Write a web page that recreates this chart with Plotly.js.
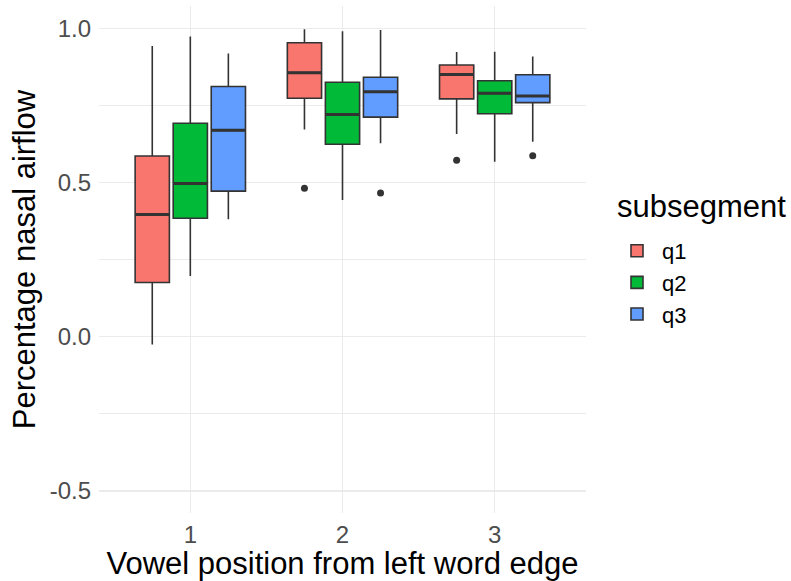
<!DOCTYPE html>
<html>
<head>
<meta charset="utf-8">
<script src="https://cdn.plot.ly/plotly-3.0.1.min.js"></script>
<style>
  html, body { margin: 0; padding: 0; background: #ffffff; }
  #chart { width: 791px; height: 581px; }
</style>
</head>
<body>
<div id="chart"></div>
<script>
// ---- Data ----
const categories = [1, 2, 3];
const categoryLabels = ['1', '2', '3'];
const seriesNames = ['q1', 'q2', 'q3'];

const q1Lower  = [-0.025, 0.672, 0.657];
const q1Q1     = [0.176, 0.773, 0.771];
const q1Median = [0.396, 0.856, 0.850];
const q1Q3     = [0.586, 0.953, 0.881];
const q1Upper  = [0.942, 0.997, 0.923];
const q1Outliers = [[], [0.481], [0.572]];

const q2Lower  = [0.197, 0.443, 0.567];
const q2Q1     = [0.384, 0.624, 0.723];
const q2Median = [0.497, 0.720, 0.789];
const q2Q3     = [0.692, 0.825, 0.830];
const q2Upper  = [0.973, 0.990, 0.924];
const q2Outliers = [[], [], []];

const q3Lower  = [0.381, 0.627, 0.632];
const q3Q1     = [0.472, 0.712, 0.759];
const q3Median = [0.669, 0.794, 0.780];
const q3Q3     = [0.811, 0.841, 0.849];
const q3Upper  = [0.918, 0.994, 0.908];
const q3Outliers = [[], [0.466], [0.587]];

const yTickVals = [-0.5, 0, 0.5, 1.0];
const yTickText = ['-0.5', '0.0', '0.5', '1.0'];
const yMinorVals = [-0.25, 0.25, 0.75];

// ---- Styles ----
const colors = ['#F8766D', '#00BA38', '#619CFF'];
const outlineColor = '#333333';
const dodgeWidth = 0.75;
const boxWidth = dodgeWidth / 3 * 0.9;

const stats = [
  { lower: q1Lower, q1: q1Q1, median: q1Median, q3: q1Q3, upper: q1Upper, out: q1Outliers },
  { lower: q2Lower, q1: q2Q1, median: q2Median, q3: q2Q3, upper: q2Upper, out: q2Outliers },
  { lower: q3Lower, q1: q3Q1, median: q3Median, q3: q3Q3, upper: q3Upper, out: q3Outliers }
];

const traces = [];
const extras = [];
stats.forEach((s, i) => {
  const offset = (i - (seriesNames.length - 1) / 2) * (dodgeWidth / seriesNames.length);
  const xs = categories.map(c => c + offset);
  traces.push({
    type: 'box',
    name: seriesNames[i],
    x: xs,
    q1: s.q1,
    median: s.median,
    q3: s.q3,
    lowerfence: s.lower,
    upperfence: s.upper,
    width: boxWidth,
    whiskerwidth: 0,
    fillcolor: colors[i],
    line: { color: outlineColor, width: 1.6 },
    marker: { color: colors[i] },
    hoverinfo: 'skip'
  });
  // thicker median segments
  const mx = [], my = [];
  xs.forEach((x, k) => {
    mx.push(x - boxWidth / 2, x + boxWidth / 2, null);
    my.push(s.median[k], s.median[k], null);
  });
  extras.push({
    type: 'scatter', mode: 'lines', x: mx, y: my,
    line: { color: outlineColor, width: 3 },
    showlegend: false, hoverinfo: 'skip'
  });
  // outliers
  const ox = [], oy = [];
  xs.forEach((x, k) => {
    s.out[k].forEach(v => { ox.push(x); oy.push(v); });
  });
  extras.push({
    type: 'scatter', mode: 'markers', x: ox, y: oy,
    marker: { color: outlineColor, size: 7 },
    showlegend: false, hoverinfo: 'skip'
  });
});

const layout = {
  width: 791,
  height: 581,
  paper_bgcolor: '#ffffff',
  plot_bgcolor: '#ffffff',
  margin: { l: 99, r: 205, t: 6, b: 68, pad: 0 },
  font: { family: 'Liberation Sans, Arial, sans-serif', color: '#000000' },
  showlegend: true,
  boxmode: 'overlay',
  xaxis: {
    range: [0.4, 3.6],
    tickmode: 'array',
    tickvals: categories,
    ticktext: categoryLabels,
    showgrid: true,
    gridcolor: '#EBEBEB',
    gridwidth: 1.2,
    zeroline: false,
    showline: false,
    ticks: '',
    ticklabelstandoff: 5,
    tickfont: { size: 24, color: '#4D4D4D' },
    title: { text: 'Vowel position from left word edge', font: { size: 31, color: '#000000' }, standoff: 1 }
  },
  yaxis: {
    range: [-0.571, 1.072],
    tickmode: 'array',
    tickvals: yTickVals,
    ticktext: yTickText,
    showgrid: true,
    gridcolor: '#EBEBEB',
    gridwidth: 1.2,
    zeroline: false,
    showline: false,
    ticks: '',
    ticklabelstandoff: 7,
    tickfont: { size: 24, color: '#4D4D4D' },
    minor: { tickmode: 'array', tickvals: yMinorVals, showgrid: true, gridcolor: '#EBEBEB', gridwidth: 1, ticks: '' },
    title: { text: 'Percentage nasal airflow', font: { size: 31, color: '#000000' }, standoff: 4 }
  },
  legend: {
    xref: 'container', yref: 'container',
    x: 612 / 791, y: 1 - 230 / 581, xanchor: 'left', yanchor: 'top',
    font: { size: 22, color: '#000000' },
    itemwidth: 40,
    tracegroupgap: 0,
    bgcolor: 'rgba(0,0,0,0)'
  },
  annotations: [{
    xref: 'paper', yref: 'paper',
    x: 1, y: 0.5,
    xshift: 29, yshift: 53,
    xanchor: 'left', yanchor: 'middle',
    text: 'subsegment',
    showarrow: false,
    font: { size: 31, color: '#000000' }
  }]
};

Plotly.newPlot('chart', traces.concat(extras), layout, { displayModeBar: false, staticPlot: true });
</script>
</body>
</html>
